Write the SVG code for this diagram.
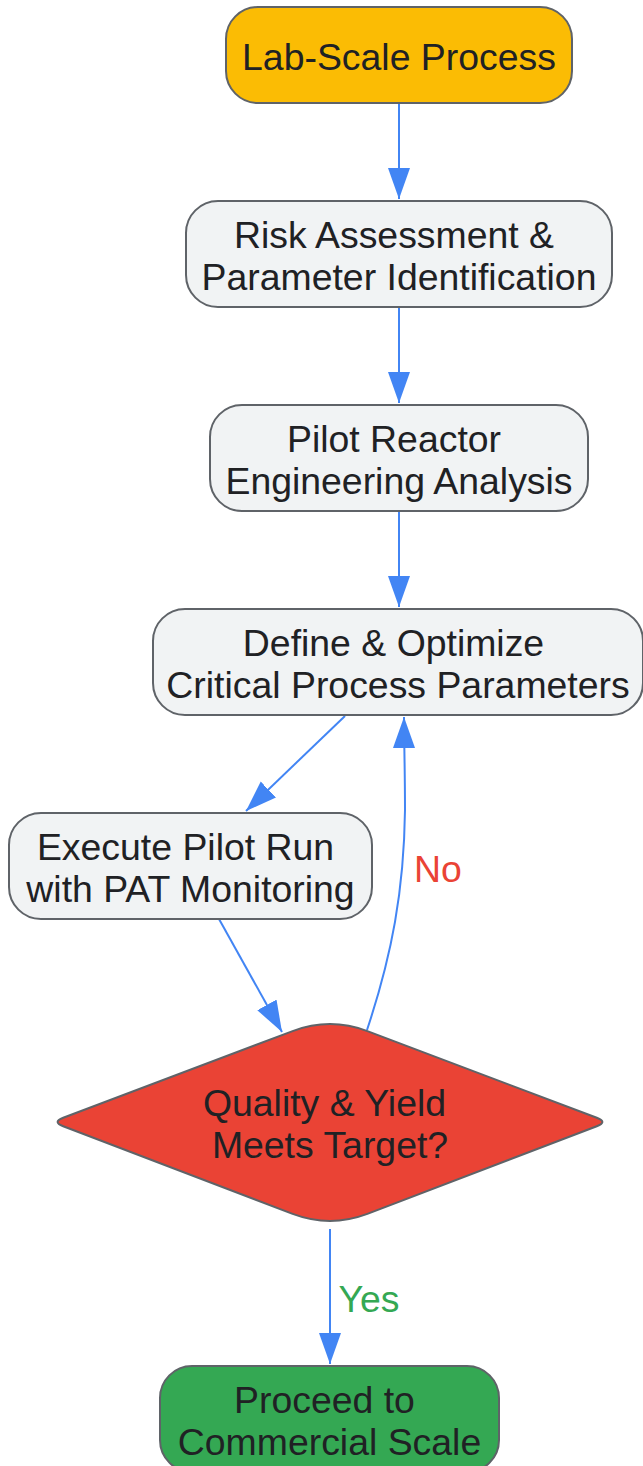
<svg xmlns="http://www.w3.org/2000/svg" width="643" height="1466" viewBox="0 0 643 1466">
<defs>
<style>
.n{stroke:#5f6368;stroke-width:2}
.g{fill:#f1f3f4}
.t{font-family:"Liberation Sans",Arial,sans-serif;font-size:37.4px;fill:#202124;text-anchor:middle}
.e{fill:none;stroke:#4285F4;stroke-width:2}
.l{font-family:"Liberation Sans",Arial,sans-serif;font-size:37.4px;text-anchor:middle}
</style>
<marker id="ah" markerUnits="userSpaceOnUse" markerWidth="32" markerHeight="24" refX="31" refY="11" orient="auto" viewBox="0 0 32 24">
<path d="M0,0 L31,11 L0,22 Z" fill="#4285F4"/>
</marker>
</defs>
<rect width="643" height="1466" fill="#ffffff"/>
<g id="connectors">
<path class="e" d="M399,103 L399,199" marker-end="url(#ah)"/>
<path class="e" d="M399,307 L399,403" marker-end="url(#ah)"/>
<path class="e" d="M399,511 L399,607" marker-end="url(#ah)"/>
<path class="e" d="M345,716 L246,811" marker-end="url(#ah)"/>
<path class="e" d="M219,919 L282,1032" marker-end="url(#ah)"/>
<path class="e" d="M367,1030 C392,955 404,890 405,810 C405,770 404,740 404,717" marker-end="url(#ah)"/>
<path class="e" d="M330,1229 L330,1364" marker-end="url(#ah)"/>
<text class="l" x="438" y="882" fill="#EA4335">No</text>
<text class="l" x="369" y="1312" fill="#34A853">Yes</text>
</g>
<g id="lab">
<rect class="n" x="226" y="7" width="346" height="96" rx="32" fill="#FBBC04"/>
<text class="t" x="399" y="70">Lab-Scale Process</text>
</g>
<g id="risk">
<rect class="n g" x="186" y="201" width="426" height="106" rx="32"/>
<text class="t" x="394" y="248">Risk Assessment &amp;</text>
<text class="t" x="399" y="290">Parameter Identification</text>
</g>
<g id="pilot">
<rect class="n g" x="210" y="405" width="378" height="106" rx="32"/>
<text class="t" x="394" y="452">Pilot Reactor</text>
<text class="t" x="399" y="494">Engineering Analysis</text>
</g>
<g id="define">
<rect class="n g" x="153" y="609" width="490" height="106" rx="32"/>
<text class="t" x="393.5" y="656">Define &amp; Optimize</text>
<text class="t" x="398" y="698">Critical Process Parameters</text>
</g>
<g id="execute">
<rect class="n g" x="9" y="813" width="363" height="106" rx="32"/>
<text class="t" x="185.5" y="860">Execute Pilot Run</text>
<text class="t" x="190.5" y="902">with PAT Monitoring</text>
</g>
<g id="decision">
<path class="n" fill="#EA4335" d="M292.6,1031.1 Q330,1017 367.4,1031.1 L596.8,1117.8 Q608,1122 596.8,1126.2 L367.4,1213.9 Q330,1228 292.6,1213.9 L63.2,1126.2 Q52,1122 63.2,1117.8 Z"/>
<text class="t" x="324.5" y="1116">Quality &amp; Yield</text>
<text class="t" x="330" y="1158">Meets Target?</text>
</g>
<g id="proceed">
<rect class="n" x="160" y="1366" width="339" height="106" rx="32" fill="#34A853"/>
<text class="t" x="324.5" y="1413">Proceed to</text>
<text class="t" x="329.5" y="1455">Commercial Scale</text>
</g>
</svg>
